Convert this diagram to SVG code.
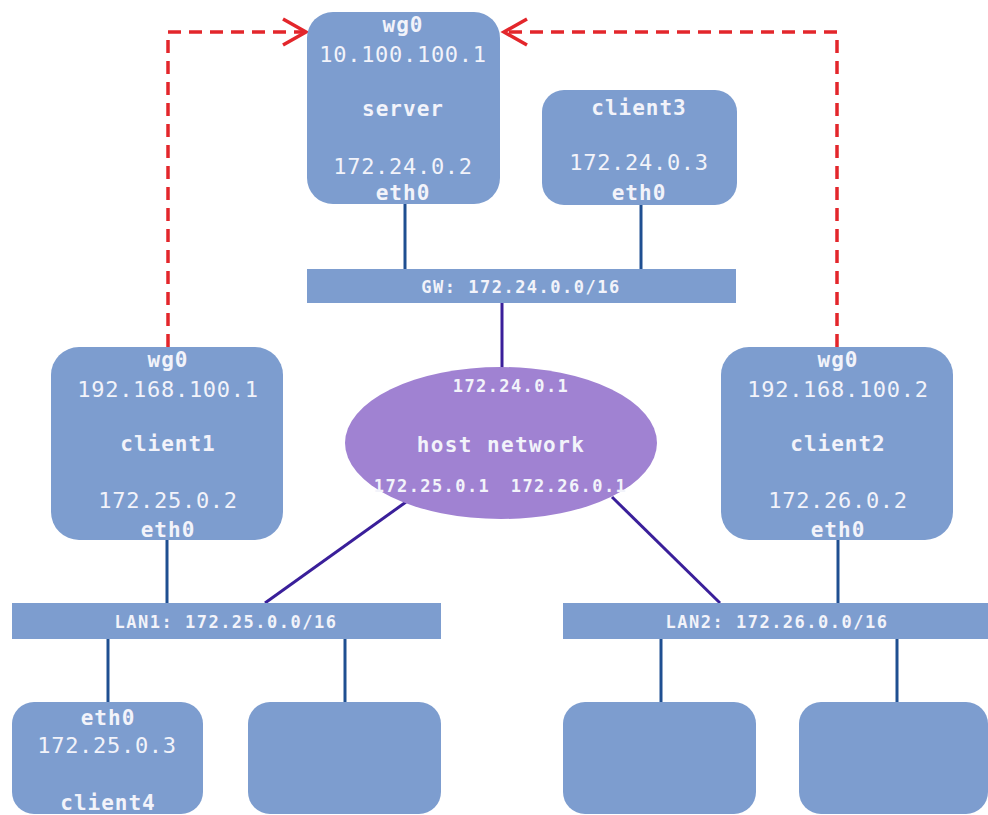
<svg xmlns="http://www.w3.org/2000/svg" width="988" height="815" viewBox="0 0 988 815">
<defs>
<style>
.box{fill:#7d9dcf;}
.ell{fill:#a082d2;}
.ln{stroke:#1f4f91;stroke-width:3;fill:none;}
.pl{stroke:#3a1f9a;stroke-width:3;fill:none;}
.wg{stroke:#e3262b;stroke-width:3.5;fill:none;stroke-dasharray:13 8;}
.ah{stroke:#e3262b;stroke-width:3.5;fill:none;}
text{font-family:"DejaVu Sans Mono","Liberation Mono",monospace;fill:#f2f3fa;text-anchor:middle;}
.ip{font-size:22px;letter-spacing:0.7px;}
.lb{font-size:21px;font-weight:bold;letter-spacing:1px;}
.bar{font-size:17px;font-weight:bold;letter-spacing:1.5px;}
.hip{font-size:17px;font-weight:bold;letter-spacing:1.4px;}
.hn{font-size:21px;font-weight:bold;letter-spacing:1.4px;}
</style>
</defs>
<rect width="988" height="815" fill="#ffffff"/>
<g id="connectors">
<line class="ln" x1="405" y1="203" x2="405" y2="270"/>
<line class="ln" x1="641" y1="203" x2="641" y2="270"/>
<line class="pl" x1="502" y1="303" x2="502" y2="368"/>
<line class="ln" x1="167" y1="540" x2="167" y2="603"/>
<line class="ln" x1="838" y1="540" x2="838" y2="603"/>
<line class="pl" x1="406" y1="502" x2="265" y2="603"/>
<line class="pl" x1="612" y1="497" x2="720" y2="603"/>
<line class="ln" x1="108" y1="639" x2="108" y2="702"/>
<line class="ln" x1="345" y1="639" x2="345" y2="702"/>
<line class="ln" x1="661" y1="639" x2="661" y2="702"/>
<line class="ln" x1="897" y1="639" x2="897" y2="702"/>
<path class="wg" d="M168 347 V32 H304"/>
<path class="ah" d="M283 19 L306 32 L283 45"/>
<path class="wg" d="M837 347 V32 H506"/>
<path class="ah" d="M527 19 L504 32 L527 45"/>
</g>
<g id="server">
<rect class="box" x="307" y="12" width="193" height="192" rx="26"/>
<text class="lb" x="403" y="32">wg0</text>
<text class="ip" x="403" y="62">10.100.100.1</text>
<text class="lb" x="403" y="116">server</text>
<text class="ip" x="403" y="174">172.24.0.2</text>
<text class="lb" x="403" y="200">eth0</text>
</g>
<g id="client3">
<rect class="box" x="542" y="90" width="195" height="115" rx="22"/>
<text class="lb" x="639" y="115">client3</text>
<text class="ip" x="639" y="170">172.24.0.3</text>
<text class="lb" x="639" y="200">eth0</text>
</g>
<g id="gw">
<rect class="box" x="307" y="269" width="429" height="34"/>
<text class="bar" x="521" y="293">GW: 172.24.0.0/16</text>
</g>
<g id="client1">
<rect class="box" x="51" y="347" width="232" height="193" rx="28"/>
<text class="lb" x="168" y="367">wg0</text>
<text class="ip" x="168" y="397">192.168.100.1</text>
<text class="lb" x="168" y="451">client1</text>
<text class="ip" x="168" y="508">172.25.0.2</text>
<text class="lb" x="168" y="537">eth0</text>
</g>
<g id="client2">
<rect class="box" x="721" y="347" width="232" height="193" rx="28"/>
<text class="lb" x="838" y="367">wg0</text>
<text class="ip" x="838" y="397">192.168.100.2</text>
<text class="lb" x="838" y="451">client2</text>
<text class="ip" x="838" y="508">172.26.0.2</text>
<text class="lb" x="838" y="537">eth0</text>
</g>
<g id="host">
<ellipse class="ell" cx="501" cy="443" rx="156" ry="76"/>
<text class="hip" x="511" y="392">172.24.0.1</text>
<text class="hn" x="501" y="452">host network</text>
<text class="hip" x="432" y="492">172.25.0.1</text>
<text class="hip" x="569" y="492">172.26.0.1</text>
</g>
<g id="lan1">
<rect class="box" x="12" y="603" width="429" height="36"/>
<text class="bar" x="226" y="628">LAN1: 172.25.0.0/16</text>
</g>
<g id="lan2">
<rect class="box" x="563" y="603" width="425" height="36"/>
<text class="bar" x="777" y="628">LAN2: 172.26.0.0/16</text>
</g>
<g id="client4">
<rect class="box" x="12" y="702" width="191" height="112" rx="22"/>
<text class="lb" x="108" y="725">eth0</text>
<text class="ip" x="107" y="753">172.25.0.3</text>
<text class="lb" x="108" y="810">client4</text>
</g>
<g id="host-lan1-b">
<rect class="box" x="248" y="702" width="193" height="112" rx="22"/>
</g>
<g id="host-lan2-a">
<rect class="box" x="563" y="702" width="193" height="112" rx="22"/>
</g>
<g id="host-lan2-b">
<rect class="box" x="799" y="702" width="189" height="112" rx="22"/>
</g>
</svg>
